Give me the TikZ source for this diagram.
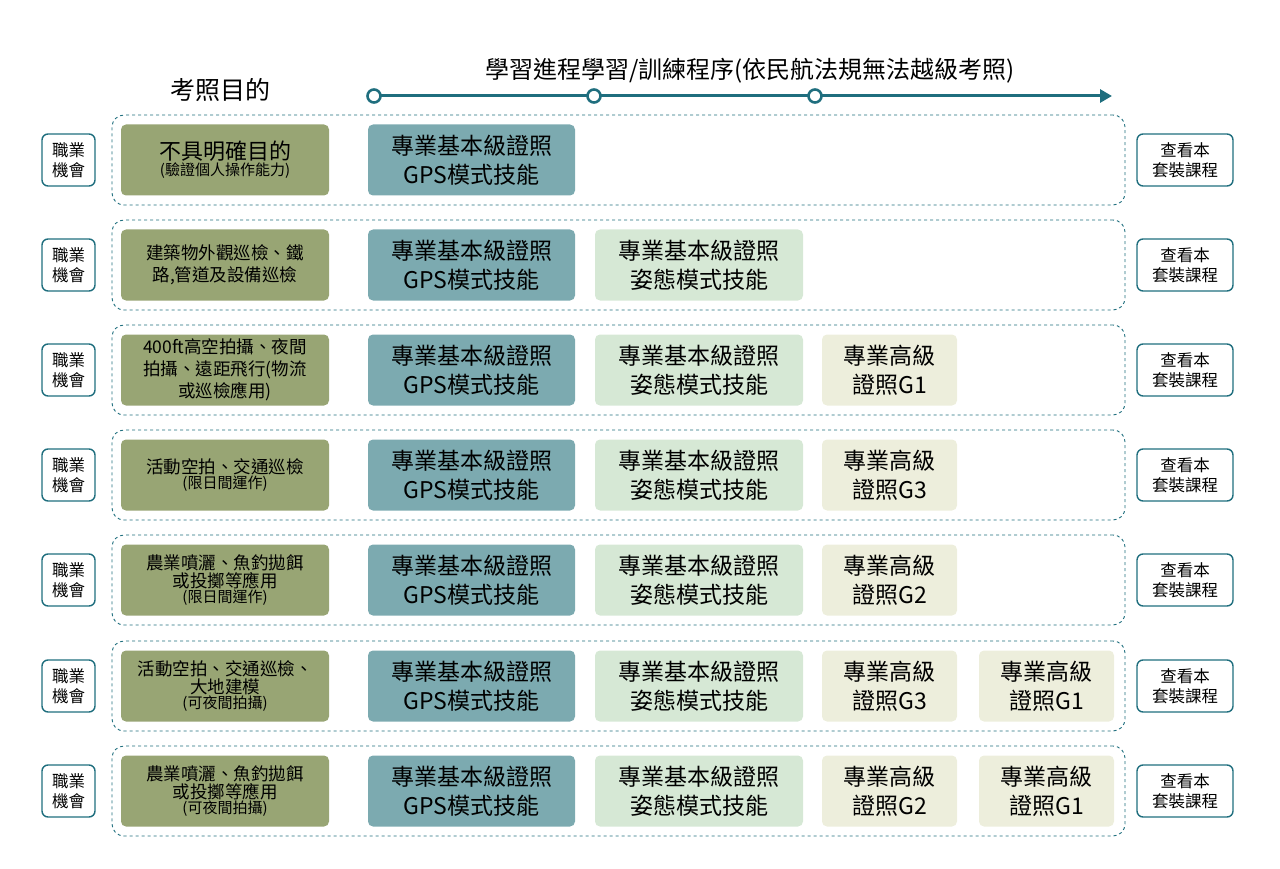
\documentclass[tikz,border=0pt]{standalone}
\usepackage{fontspec}
\usetikzlibrary{arrows.meta}
\setmainfont{Noto Sans CJK TC}
\definecolor{tealc}{HTML}{1F6E7E}
\definecolor{olive}{HTML}{98A574}
\definecolor{gps}{HTML}{7CAAB0}
\definecolor{att}{HTML}{D6E8D5}
\definecolor{adv}{HTML}{EDEEDC}
\begin{document}
\begin{tikzpicture}[x=1pt,y=-1pt,
 rowbox/.style={draw=tealc,dashed,line width=0.9pt,rounded corners=12pt,minimum width=1013pt,minimum height=90pt},
 job/.style={draw=tealc,line width=1.4pt,rounded corners=6pt,minimum width=53pt,minimum height=52pt,font=\fontsize{16.5}{20}\selectfont,align=center,inner sep=1pt},
 course/.style={draw=tealc,line width=1.4pt,rounded corners=6pt,minimum width=96pt,minimum height=52pt,font=\fontsize{16.5}{20}\selectfont,align=center,inner sep=1pt},
 purp/.style={fill=olive,rounded corners=5pt,minimum width=208pt,minimum height=71pt,align=center,inner sep=1pt},
 big/.style={rounded corners=5pt,minimum height=71pt,align=center,font=\fontsize{23}{29}\selectfont,inner sep=1pt},
 gpsb/.style={big,fill=gps,minimum width=207pt},
 attb/.style={big,fill=att,minimum width=208pt},
 advb/.style={big,fill=adv,minimum width=135pt},
 dot/.style={circle,draw=tealc,line width=2.6pt,fill=white,minimum size=13pt,inner sep=0pt}]
\useasboundingbox (0,0) rectangle (1280,869);
\def\s{\fontsize{17.5}{22}\selectfont}
\def\ss{\fontsize{15}{19}\selectfont}
\node[font=\fontsize{25}{28}\selectfont] (h1) at (220,90) {考照目的};
\node[font=\fontsize{24}{28}\selectfont] (h2) at (750,71) {學習進程學習/訓練程序(依民航法規無法越級考照)};
\coordinate (e) at (1112,96);
\draw[tealc,line width=3pt] (374,96) -- (815,96);
\draw[tealc,line width=3pt,-{Triangle[length=12pt,width=13pt]}] (815,96) -- (e);
\node[dot] (d1) at (374,96) {};
\node[dot] (d2) at (594,96) {};
\node[dot] (d3) at (815,96) {};
\foreach \i/\y in {1/160,2/265,3/370,4/475,5/580,6/686,7/791}{
 \node[rowbox] (r\i) at (618.5,\y) {};
 \node[job] (j\i) at (68.5,\y) {職業\\機會};
 \node[course] (c\i) at (1185,\y) {查看本\\套裝課程};
 \node[gpsb] (g\i) at (471.5,\y) {專業基本級證照\\GPS模式技能};
}
\foreach \i/\y in {2/265,3/370,4/475,5/580,6/686,7/791}{
 \node[attb] (a\i) at (699,\y) {專業基本級證照\\姿態模式技能};
}
\node[advb] (b3) at (889.5,370) {專業高級\\證照G1};
\node[advb] (b4) at (889.5,475) {專業高級\\證照G3};
\node[advb] (b5) at (889.5,580) {專業高級\\證照G2};
\node[advb] (b6) at (889.5,686) {專業高級\\證照G3};
\node[advb] (b7) at (889.5,791) {專業高級\\證照G2};
\node[advb] (k6) at (1046.5,686) {專業高級\\證照G1};
\node[advb] (k7) at (1046.5,791) {專業高級\\證照G1};
\node[purp] (p1) at (225,160) {{\fontsize{22}{28}\selectfont 不具明確目的}\\{\ss (驗證個人操作能力)}};
\node[purp,font=\s] (p2) at (225,265) {建築物外觀巡檢、鐵\\路,管道及設備巡檢};
\node[purp,font=\s] (p3) at (225,370) {400ft高空拍攝、夜間\\拍攝、遠距飛行(物流\\或巡檢應用)};
\node[purp] (p4) at (225,475) {{\s 活動空拍、交通巡檢}\\{\ss (限日間運作)}};
\node[purp] (p5) at (225,580) {{\s 農業噴灑、魚釣拋餌}\\{\s 或投擲等應用}\\{\ss (限日間運作)}};
\node[purp] (p6) at (225,686) {{\s 活動空拍、交通巡檢、}\\{\s 大地建模}\\{\ss (可夜間拍攝)}};
\node[purp] (p7) at (225,791) {{\s 農業噴灑、魚釣拋餌}\\{\s 或投擲等應用}\\{\ss (可夜間拍攝)}};
\end{tikzpicture}
\end{document}
